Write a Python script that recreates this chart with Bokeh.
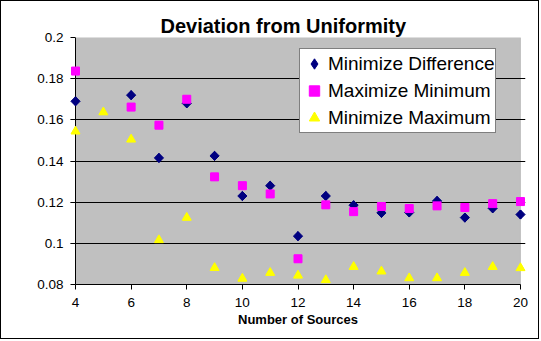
import math
from bokeh.plotting import figure
from bokeh.models import (Range1d, FixedTicker, CustomJSTickFormatter, Title, Legend,
                          LegendItem, BoxAnnotation, Span)
from bokeh.embed import file_html
from bokeh.resources import INLINE

# ---- data ----
x_sources = [4, 6, 7, 8, 9, 10, 11, 12, 13, 14, 15, 16, 17, 18, 19, 20]
minimize_difference = [0.169, 0.172, 0.1415, 0.168, 0.1425, 0.123, 0.128, 0.1035,
                       0.123, 0.1185, 0.1148, 0.115, 0.1206, 0.1125, 0.117, 0.114]
maximize_minimum = [0.1837, 0.1662, 0.1574, 0.170, 0.1323, 0.128, 0.124, 0.0925,
                    0.1187, 0.1154, 0.1179, 0.1169, 0.1182, 0.1174, 0.1193, 0.1203]
x_sources_all = [4, 5, 6, 7, 8, 9, 10, 11, 12, 13, 14, 15, 16, 17, 18, 19, 20]
minimize_maximum = [0.1544, 0.1637, 0.1505, 0.1016, 0.1125, 0.0881, 0.0829, 0.0857,
                    0.0844, 0.0822, 0.0886, 0.0864, 0.0831, 0.0831, 0.0857, 0.0886, 0.0880]
x_min, x_max = 4, 20
y_min, y_max = 0.08, 0.2
x_ticks = [4, 6, 8, 10, 12, 14, 16, 18, 20]
y_ticks = [0.08, 0.1, 0.12, 0.14, 0.16, 0.18, 0.2]
grid_ticks = [0.1, 0.12, 0.14, 0.16, 0.18]
title_text = "Deviation from Uniformity"
x_label = "Number of Sources"
series_names = ["Minimize Difference", "Maximize Minimum", "Minimize Maximum"]
series_colors = ["#000080", "#FF00FF", "#FFFF00"]

FONT = "Liberation Sans"
PAD = 0.18  # small extra room so edge markers are not cut off

p = figure(width=539, height=339, output_backend="svg", toolbar_location=None,
           x_range=Range1d(x_min - PAD, x_max + PAD), y_range=Range1d(y_min, y_max),
           min_border_left=69, min_border_right=15, min_border_top=36, min_border_bottom=56)
p.styles = {"border": "1px solid black"}
p.background_fill_color = "white"
p.border_fill_color = "white"
p.outline_line_color = None

# grey plot area
p.add_layout(BoxAnnotation(left=x_min, right=x_max, bottom=y_min, top=y_max,
                           fill_color="#C0C0C0", fill_alpha=1,
                           line_color="#808080", line_width=1, level="image"))

p.title = Title(text=title_text, align="left", offset=90, text_font=FONT,
                text_font_size="20px", text_font_style="bold", text_color="black", standoff=2)

# axes
p.xaxis.ticker = FixedTicker(ticks=x_ticks)
p.yaxis.ticker = FixedTicker(ticks=y_ticks)
p.yaxis.formatter = CustomJSTickFormatter(code="return tick.toFixed(2).replace(/0$/, '');")
for ax in (p.xaxis, p.yaxis):
    ax.axis_line_color = "black"
    ax.major_tick_line_color = "black"
    ax.major_tick_in = 0
    ax.major_tick_out = 5
    ax.minor_tick_line_color = None
    ax.major_label_text_font = FONT
    ax.major_label_text_font_size = "13.5px"
    ax.major_label_text_color = "black"
p.xaxis.bounds = (x_min, x_max)
# y axis sits at the frame edge; its line is drawn at x=4 by a span, ticks reach inwards to it
p.yaxis.axis_line_color = None
p.yaxis.major_tick_in = 5
p.yaxis.major_tick_out = 0
p.yaxis.major_label_standoff = 7
p.add_layout(Span(location=x_min, dimension="height", line_color="black", line_width=1))

p.xaxis.major_label_standoff = 8
p.xaxis.axis_label = x_label
p.xaxis.axis_label_text_font = FONT
p.xaxis.axis_label_text_font_size = "13px"
p.xaxis.axis_label_text_font_style = "bold"
p.xaxis.axis_label_text_color = "black"
p.xaxis.axis_label_standoff = 2

p.xgrid.grid_line_color = None
p.ygrid.ticker = FixedTicker(ticks=grid_ticks)
p.ygrid.bounds = (x_min, x_max)
p.ygrid.grid_line_color = "black"
p.ygrid.grid_line_width = 1

# smaller copies (hidden under the main markers) that supply the legend symbols
l1 = p.scatter(x_sources, minimize_difference, marker="diamond", size=9,
               fill_color=series_colors[0], line_color=series_colors[0], level="glyph")
l2 = p.scatter(x_sources, maximize_minimum, marker="square", size=6.5,
               fill_color=series_colors[1], line_color=series_colors[1], level="glyph")
l3 = p.scatter(x_sources_all, minimize_maximum, marker="triangle", size=8,
               fill_color=series_colors[2], line_color=series_colors[2], level="glyph")

# main markers
p.scatter(x_sources, minimize_difference, marker="square", angle=math.pi / 4, size=6.5,
          fill_color=series_colors[0], line_color=series_colors[0], level="overlay")
p.scatter(x_sources, maximize_minimum, marker="square", size=8,
          fill_color=series_colors[1], line_color=series_colors[1], level="overlay")
p.scatter(x_sources_all, minimize_maximum, marker="triangle", size=9,
          fill_color=series_colors[2], line_color=series_colors[2], level="overlay")

legend = Legend(items=[LegendItem(label=series_names[0], renderers=[l1]),
                       LegendItem(label=series_names[1], renderers=[l2]),
                       LegendItem(label=series_names[2], renderers=[l3])],
                location=(229, 151), margin=0, padding=1, spacing=0,
                label_height=27, glyph_height=27, glyph_width=26, label_standoff=1,
                label_text_font=FONT, label_text_font_size="19px", label_text_color="black",
                border_line_color="black", border_line_width=1,
                background_fill_color="white", background_fill_alpha=1)
p.add_layout(legend, "center")

open("out.html", "w").write(file_html(p, INLINE))
